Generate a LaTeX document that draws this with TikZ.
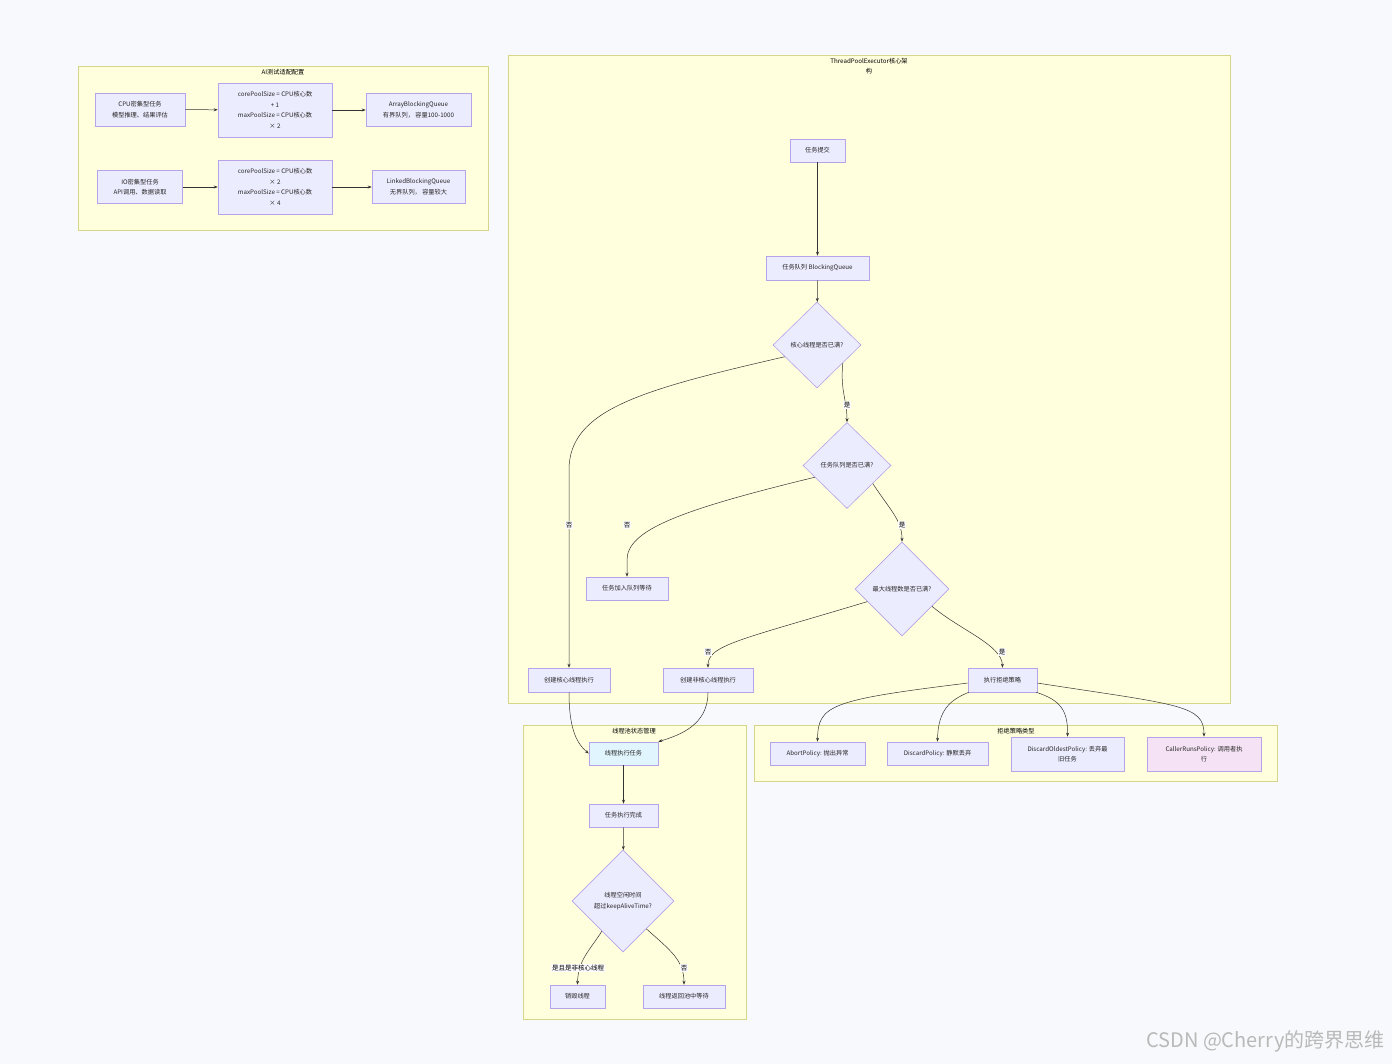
\documentclass[tikz,border=0pt]{standalone}
\usepackage{fontspec}
\setmainfont{Noto Sans CJK SC}
\usetikzlibrary{shapes.geometric,arrows.meta}
\definecolor{bg}{HTML}{F8F9FC}
\definecolor{clf}{HTML}{FFFFDE}
\definecolor{cls}{HTML}{D6D68A}
\definecolor{nf}{HTML}{ECECFF}
\definecolor{ns}{HTML}{B7A3E8}
\definecolor{cy}{HTML}{E1F5FE}
\definecolor{pk}{HTML}{F5E3F5}
\definecolor{ln}{HTML}{333333}
\tikzset{
 cl/.style={draw=cls,fill=clf,line width=0.6pt},
 n/.style={draw=ns,fill=nf,line width=0.6pt,align=center,inner sep=0pt,font=\fontsize{6.2}{10.5}\selectfont,text=black!85},
 dm/.style={n,diamond,shape aspect=1},
 arr/.style={draw=ln,line width=0.5pt,-{Stealth[length=4pt,width=3pt]}},
 lb/.style={font=\fontsize{6.5}{8}\selectfont,fill=bg!60!white,inner sep=1pt},
 tt/.style={font=\fontsize{6.2}{8}\selectfont,align=center}
}
\begin{document}
\begin{tikzpicture}[x=1pt,y=-1pt]
\fill[bg] (0,0) rectangle (1392,1064);
\useasboundingbox (0,0) rectangle (1392,1064);
% clusters
\draw[cl] (78,66) rectangle (488,230);
\node[tt] at (283,72) {AI测试适配配置};
\draw[cl] (508,55) rectangle (1230,703);
\node[tt,font=\fontsize{6.2}{10.5}\selectfont] at (869,66) {ThreadPoolExecutor核心架\\构};
\draw[cl] (523,725) rectangle (746,1019);
\node[tt] at (634,731) {线程池状态管理};
\draw[cl] (754,725) rectangle (1277,781);
\node[tt] at (1016,731) {拒绝策略类型};
% AI nodes
\node[n,minimum width=90,minimum height=33] (cpu) at (140,109.5) {CPU密集型任务\\模型推理、结果评估};
\node[n,minimum width=114,minimum height=54] (cfg1) at (275,110) {corePoolSize = CPU核心数\\+ 1\\maxPoolSize = CPU核心数\\× 2};
\node[n,minimum width=105,minimum height=33] (aq) at (418.5,110) {ArrayBlockingQueue\\有界队列， 容量100-1000};
\node[n,minimum width=85,minimum height=33] (io) at (140,187) {IO密集型任务\\API调用、数据读取};
\node[n,minimum width=114,minimum height=54] (cfg2) at (275,187) {corePoolSize = CPU核心数\\× 2\\maxPoolSize = CPU核心数\\× 4};
\node[n,minimum width=93,minimum height=33] (lq) at (418.5,187) {LinkedBlockingQueue\\无界队列， 容量较大};
\draw[arr] (cpu) -- (cfg1);
\draw[arr] (cfg1) -- (aq);
\draw[arr] (io) -- (cfg2);
\draw[arr] (cfg2) -- (lq);
% TPE
\node[n,minimum width=55,minimum height=23] (sub) at (817.5,150.5) {任务提交};
\node[n,minimum width=103,minimum height=24] (que) at (817.5,268) {任务队列 BlockingQueue};
\node[dm,minimum width=88,minimum height=86] (d1) at (817,345) {核心线程是否已满?};
\node[dm,minimum width=88,minimum height=86] (d2) at (847,465.5) {任务队列是否已满?};
\node[dm,minimum width=94,minimum height=94] (d3) at (902,589) {最大线程数是否已满?};
\node[n,minimum width=82,minimum height=23] (enq) at (627,588.5) {任务加入队列等待};
\node[n,minimum width=82,minimum height=24] (core) at (569,680) {创建核心线程执行};
\node[n,minimum width=90,minimum height=24] (nc) at (708,680) {创建非核心线程执行};
\node[n,minimum width=69,minimum height=24] (rej) at (1002.5,680) {执行拒绝策略};
\draw[arr] (sub) -- (que);
\draw[arr] (que) -- (d1);
\draw[arr] (d1.200) .. controls (640,390) and (569,410) .. (569,470) -- (core.north);
\node[lb] at (569,525) {否};
\draw[arr] (d1.-35) .. controls (840,390) and (847,400) .. (d2.north);
\node[lb] at (847,405) {是};
\draw[arr] (d2.200) .. controls (680,510) and (627,530) .. (627,560) -- (enq.north);
\node[lb] at (627,525) {否};
\draw[arr] (d2.-35) .. controls (890,510) and (902,520) .. (d3.north);
\node[lb] at (902,525) {是};
\draw[arr] (d3.200) .. controls (740,640) and (708,645) .. (nc.north);
\node[lb] at (708,652) {否};
\draw[arr] (d3.-30) .. controls (960,630) and (1002,645) .. (rej.north);
\node[lb] at (1002,652) {是};
% state
\node[n,fill=cy,minimum width=69,minimum height=23] (ex) at (623.5,753.5) {线程执行任务};
\node[n,minimum width=69,minimum height=23] (done) at (623.5,815.5) {任务执行完成};
\node[dm,minimum width=102,minimum height=102] (d4) at (623,901) {线程空闲时间\\超过keepAliveTime?};
\node[n,minimum width=55,minimum height=23] (des) at (577.5,996.5) {销毁线程};
\node[n,minimum width=82,minimum height=23] (wt) at (684,996.5) {线程返回池中等待};
\draw[arr] (core.south) .. controls (569,725) and (575,742) .. (ex.west);
\draw[arr] (nc.south) .. controls (708,725) and (680,735) .. (ex.north east);
\draw[arr] (ex) -- (done);
\draw[arr] (done) -- (d4);
\draw[arr] (d4.235) .. controls (590,950) and (578,960) .. (des.north);
\node[lb] at (578,968) {是且是非核心线程};
\draw[arr] (d4.-50) .. controls (670,950) and (684,960) .. (wt.north);
\node[lb] at (684,968) {否};
% reject types
\node[n,minimum width=95,minimum height=23] (ab) at (817.5,753.5) {AbortPolicy: 抛出异常};
\node[n,minimum width=101,minimum height=23] (dc) at (937.5,753.5) {DiscardPolicy: 静默丢弃};
\node[n,minimum width=113,minimum height=34] (old) at (1067.5,754) {DiscardOldestPolicy: 丢弃最\\旧任务};
\node[n,fill=pk,minimum width=114,minimum height=34] (cr) at (1204,754) {CallerRunsPolicy: 调用者执\\行};
\draw[arr] (rej.185) .. controls (830,700) and (818,705) .. (ab.north);
\draw[arr] (rej.200) .. controls (950,700) and (938,710) .. (dc.north);
\draw[arr] (rej.-20) .. controls (1060,700) and (1068,710) .. (old.north);
\draw[arr] (rej.-5) .. controls (1180,705) and (1204,705) .. (cr.north);
% watermark
\node[font=\fontsize{20}{22}\selectfont,text=gray!55,anchor=east] at (1388,1041) {CSDN @Cherry的跨界思维};
\end{tikzpicture}
\end{document}
